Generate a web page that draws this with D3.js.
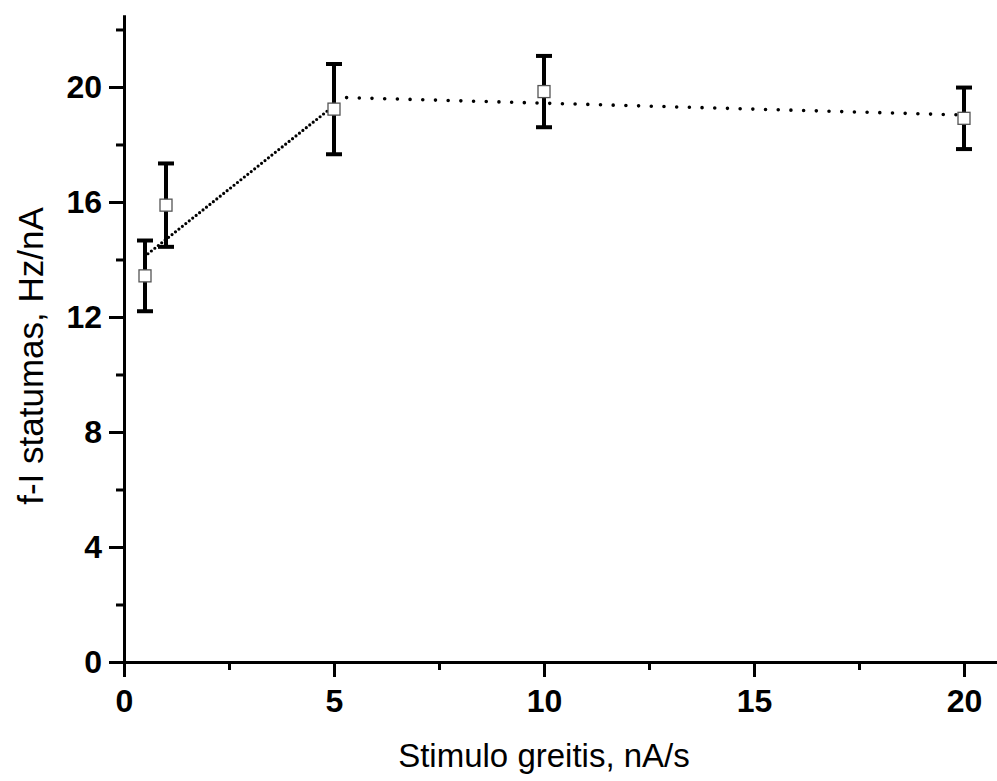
<!DOCTYPE html>
<html>
<head>
<meta charset="utf-8">
<script src="https://cdn.jsdelivr.net/npm/d3@7"></script>
<style>
  body { margin: 0; background: #fff; }
  svg text { font-family: "Liberation Sans", Arial, sans-serif; fill: #000; }
  .tick-label { font-size: 32px; font-weight: bold; }
  .axis-title { font-size: 33px; }
  .axis-title.y { font-size: 35px; }
</style>
</head>
<body>
<div id="vis"></div>
<script>
// stimulus rate (nA/s) vs f-I slope (Hz/nA), mean +- error
var rates  = [0.5, 1, 5, 10, 20];
var slopes = [13.43, 15.89, 19.23, 19.84, 18.91];
var errs   = [1.23, 1.45, 1.57, 1.24, 1.07];

// linear fits over the two ranges
var fitLowX  = [0.57, 5.0];
var fitLowY  = [14.2, 19.35];
var fitHighX = [5.3, 19.86];
var fitHighY = [19.63, 19.03];

var xMajor = [0, 5, 10, 15, 20];
var xMinor = [2.5, 7.5, 12.5, 17.5];
var yMajor = [0, 4, 8, 12, 16, 20];
var yMinor = [2, 6, 10, 14, 18, 22];

var W = 997, H = 781;

var svg = d3.select("#vis")
  .append("svg")
  .attr("width", W)
  .attr("height", H);

var x = d3.scaleLinear().domain([0, 20.8]).range([124, 997.6]);
var y = d3.scaleLinear().domain([0, 22.5]).range([662, 15.1]);

////////// axes //////////

function styleAxis(g) {
  g.select(".domain").attr("stroke", "#000").attr("stroke-width", 3);
  g.selectAll(".tick line").attr("stroke", "#000").attr("stroke-width", 3);
}

svg.append("g")
  .attr("transform", "translate(0,662)")
  .call(d3.axisBottom(x).tickValues(xMinor).tickSize(8).tickSizeOuter(0).tickFormat(""))
  .call(styleAxis);

var xAxis = svg.append("g")
  .attr("transform", "translate(0,662)")
  .call(d3.axisBottom(x).tickValues(xMajor).tickSize(15).tickSizeOuter(0).tickPadding(12))
  .call(styleAxis);
xAxis.selectAll("text").attr("class", "tick-label").attr("font-size", null).attr("font-family", null);

svg.append("g")
  .attr("transform", "translate(124,0)")
  .call(d3.axisLeft(y).tickValues(yMinor).tickSize(8).tickSizeOuter(0).tickFormat(""))
  .call(styleAxis);

var yAxis = svg.append("g")
  .attr("transform", "translate(124,0)")
  .call(d3.axisLeft(y).tickValues(yMajor).tickSize(15).tickSizeOuter(0).tickPadding(7))
  .call(styleAxis);
yAxis.selectAll("text").attr("class", "tick-label").attr("font-size", null).attr("font-family", null);

svg.append("text")
  .attr("class", "axis-title")
  .attr("text-anchor", "middle")
  .attr("x", (x(0) + x(20)) / 2)
  .attr("y", 767)
  .text("Stimulo greitis, nA/s");

svg.append("text")
  .attr("class", "axis-title y")
  .attr("text-anchor", "middle")
  .attr("transform", "translate(43," + 356 + ") rotate(-90)")
  .text("f-I statumas, Hz/nA");

////////// fit lines //////////

var line = d3.line()
  .x(function (d) { return x(d[0]); })
  .y(function (d) { return y(d[1]); });

svg.append("path")
  .datum(d3.zip(fitLowX, fitLowY))
  .attr("d", line)
  .attr("fill", "none")
  .attr("stroke", "#000")
  .attr("stroke-width", 3.2)
  .attr("stroke-linecap", "round")
  .attr("stroke-dasharray", "0 4.4");

svg.append("path")
  .datum(d3.zip(fitHighX, fitHighY))
  .attr("d", line)
  .attr("fill", "none")
  .attr("stroke", "#000")
  .attr("stroke-width", 3.6)
  .attr("stroke-linecap", "round")
  .attr("stroke-dasharray", "0 12.7");

////////// error bars + markers //////////

var pts = rates.map(function (r, i) { return { x: r, y: slopes[i], e: errs[i] }; });

var bars = svg.append("g").selectAll("g")
  .data(pts)
  .enter()
  .append("g");

bars.append("line")
  .attr("x1", function (d) { return x(d.x); })
  .attr("x2", function (d) { return x(d.x); })
  .attr("y1", function (d) { return y(d.y + d.e); })
  .attr("y2", function (d) { return y(d.y - d.e); })
  .attr("stroke", "#000")
  .attr("stroke-width", 4);

[1, -1].forEach(function (s) {
  bars.append("line")
    .attr("x1", function (d) { return x(d.x) - 8; })
    .attr("x2", function (d) { return x(d.x) + 8; })
    .attr("y1", function (d) { return y(d.y + s * d.e); })
    .attr("y2", function (d) { return y(d.y + s * d.e); })
    .attr("stroke", "#000")
    .attr("stroke-width", 4);
});

bars.append("rect")
  .attr("x", function (d) { return x(d.x) - 6; })
  .attr("y", function (d) { return y(d.y) - 6; })
  .attr("width", 12)
  .attr("height", 12)
  .attr("fill", "#fff")
  .attr("stroke", "#555")
  .attr("stroke-width", 1.3);
</script>
</body>
</html>
